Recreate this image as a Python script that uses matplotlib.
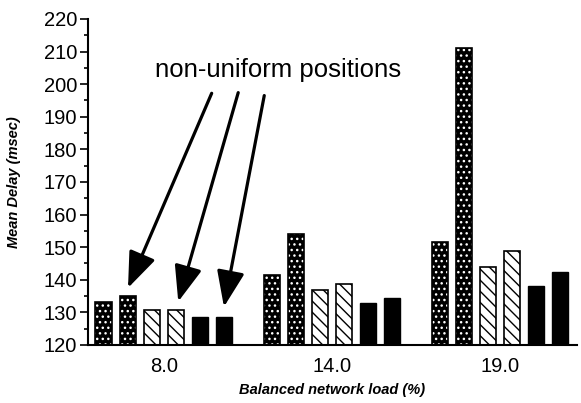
import numpy as np
import matplotlib
matplotlib.use('Agg')
import matplotlib.pyplot as plt

plt.rcParams['font.family'] = ['Liberation Sans', 'DejaVu Sans']
plt.rcParams['hatch.linewidth'] = 1.0

loads = ['8.0', '14.0', '19.0']
dotted_a = [133.1, 141.5, 151.5]
dotted_b = [135.1, 154.0, 211.0]
striped_a = [130.8, 137.0, 144.0]
striped_b = [130.8, 138.6, 148.7]
solid_a = [128.5, 132.9, 138.0]
solid_b = [128.5, 134.5, 142.3]

fig = plt.figure(figsize=(5.81, 4.03), dpi=100)
ax = fig.add_axes([0.1515, 0.144, 0.8415, 0.809])

x = np.arange(len(loads))
w = 0.10
step = 0.143
series = [dotted_a, dotted_b, striped_a, striped_b, solid_a, solid_b]
for i, vals in enumerate(series):
    pos = x + (i - 2.5) * step
    heights = np.array(vals) - 120
    if i < 2:
        ax.bar(pos, heights, w, bottom=120, color='black', edgecolor='white',
               hatch='...', linewidth=0)
        ax.bar(pos, heights, w, bottom=120, fill=False, edgecolor='black', linewidth=1.2)
    elif i < 4:
        ax.bar(pos, heights, w, bottom=120, color='white', edgecolor='black',
               hatch='\\\\\\', linewidth=1.2)
    else:
        ax.bar(pos, heights, w, bottom=120, color='black', edgecolor='black', linewidth=1)

ax.set_xlim(-0.452, 2.458)
ax.set_ylim(120, 220)
ax.set_yticks(np.arange(120, 221, 10))
ax.set_yticks(np.arange(125, 220, 10), minor=True)
ax.set_xticks(x)
ax.set_xticklabels(loads)
ax.tick_params(axis='y', which='major', direction='out', length=6, width=1.2, labelsize=14.5, pad=2)
ax.tick_params(axis='y', which='minor', direction='out', length=3, width=1.2)
ax.tick_params(axis='x', length=0, labelsize=14.5, pad=9)
for s in ['top', 'right']:
    ax.spines[s].set_visible(False)
ax.spines['left'].set_linewidth(1.5)
ax.spines['bottom'].set_linewidth(1.5)

ax.set_ylabel('Mean Delay (msec)', fontsize=10.5, fontweight='bold', style='italic', labelpad=16)
ax.set_xlabel('Balanced network load (%)', fontsize=10.5, fontweight='bold', style='italic', labelpad=5)

ax.text(0.68, 204.3, 'non-uniform positions', fontsize=18.5, ha='center', va='center')
arrows = [((0.284, 197.2), (-0.214, 137.5)),
          ((0.442, 197.4), (0.085, 133.3)),
          ((0.597, 196.5), (0.357, 131.7))]
for start, tip in arrows:
    ax.annotate('', xy=tip, xytext=start,
                arrowprops=dict(arrowstyle='-|>,head_length=2.2,head_width=0.85',
                                color='black', lw=2.3, shrinkA=0, shrinkB=0))

fig.savefig('out.png', dpi=100)
